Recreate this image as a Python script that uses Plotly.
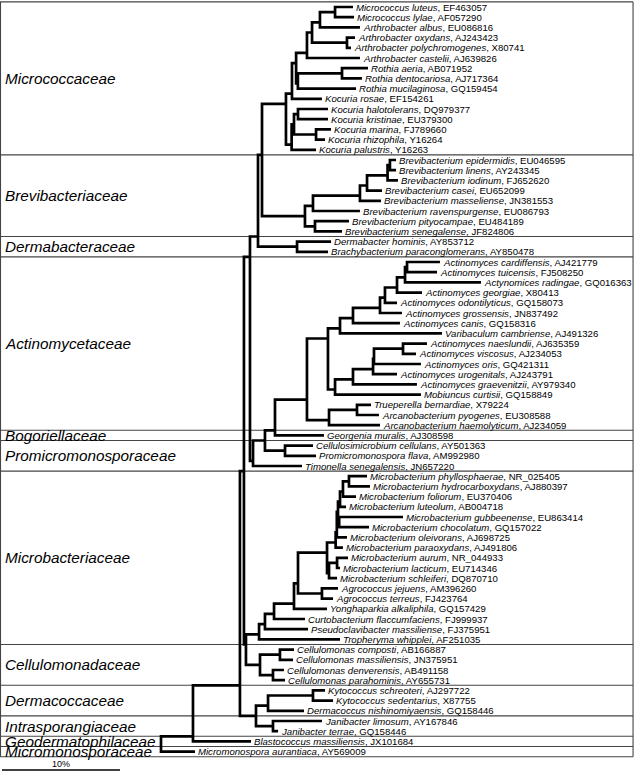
import plotly.graph_objects as go

# ---------------- data ----------------
species = [
    "Micrococcus luteus", "Micrococcus lylae", "Arthrobacter albus", "Arthrobacter oxydans",
    "Arthrobacter polychromogenes", "Arthrobacter castelii", "Rothia aeria", "Rothia dentocariosa",
    "Rothia mucilaginosa", "Kocuria rosae", "Kocuria halotolerans", "Kocuria kristinae",
    "Kocuria marina", "Kocuria rhizophila", "Kocuria palustris",
    "Brevibacterium epidermidis", "Brevibacterium linens", "Brevibacterium iodinum",
    "Brevibacterium casei", "Brevibacterium masseliense", "Brevibacterium ravenspurgense",
    "Brevibacterium pityocampae", "Brevibacterium senegalense",
    "Dermabacter hominis", "Brachybacterium paraconglomerans",
    "Actinomyces cardiffensis", "Actinomyces tuicensis", "Actynomices radingae",
    "Actinomyces georgiae", "Actinomyces odontilyticus", "Actinomyces grossensis",
    "Actinomyces canis", "Varibaculum cambriense", "Actinomyces naeslundii",
    "Actinomyces viscosus", "Actinomyces oris", "Actinomyces urogenitals",
    "Actinomyces graevenitzii", "Mobiuncus curtisii", "Trueperella bernardiae",
    "Arcanobacterium pyogenes", "Arcanobacterium haemolyticum",
    "Georgenia muralis",
    "Cellulosimicrobium cellulans", "Promicromonospora flava", "Timonella senegalensis",
    "Microbacterium phyllosphaerae", "Microbacterium hydrocarboxydans",
    "Microbacterium foliorum", "Microbacterium luteolum", "Microbacterium gubbeenense",
    "Microbacterium chocolatum", "Microbacterium oleivorans", "Microbacterium paraoxydans",
    "Microbacterium aurum", "Microbacterium lacticum", "Microbacterium schleiferi",
    "Agrococcus jejuens", "Agrococcus terreus", "Yonghaparkia alkaliphila",
    "Curtobacterium flaccumfaciens", "Pseudoclavibacter massiliense", "Tropheryma whipplei",
    "Cellulomonas composti", "Cellulomonas massiliensis", "Cellulomonas denverensis",
    "Cellulomonas parahominis",
    "Kytococcus schreoteri", "Kytococcus sedentarius", "Dermacoccus nishinomiyaensis",
    "Janibacter limosum", "Janibacter terrae",
    "Blastococcus massiliensis", "Micromonospora aurantiaca",
]
accession = [
    "EF463057", "AF057290", "EU086816", "AJ243423", "X80741", "AJ639826", "AB071952",
    "AJ717364", "GQ159454", "EF154261", "DQ979377", "EU379300", "FJ789660", "Y16264", "Y16263",
    "EU046595", "AY243345", "FJ652620", "EU652099", "JN381553", "EU086793", "EU484189",
    "JF824806",
    "AY853712", "AY850478",
    "AJ421779", "FJ508250", "GQ016363", "X80413", "GQ158073", "JN837492", "GQ158316",
    "AJ491326", "AJ635359", "AJ234053", "GQ421311", "AJ243791", "AY979340", "GQ158849",
    "X79224", "EU308588", "AJ234059",
    "AJ308598",
    "AY501363", "AM992980", "JN657220",
    "NR_025405", "AJ880397", "EU370406", "AB004718", "EU863414", "GQ157022", "AJ698725",
    "AJ491806", "NR_044933", "EU714346", "DQ870710", "AM396260", "FJ423764", "GQ157429",
    "FJ999937", "FJ375951", "AF251035",
    "AB166887", "JN375951", "AB491158", "AY655731",
    "AJ297722", "X87755", "GQ158446", "AY167846", "GQ158446",
    "JX101684", "AY569009",
]
# distance of each tip from the root (% divergence)
tip_depth = [
    16.27, 16.36, 16.86, 16.44, 16.10, 16.86, 17.54, 17.03, 16.53, 13.64, 14.15, 14.15,
    14.41, 13.90, 13.14,
    19.92, 19.92, 20.08, 18.73, 18.64, 16.86, 15.93, 15.34,
    14.41, 14.15,
    23.64, 23.39, 27.12, 22.12, 20.00, 20.42, 20.25, 23.81, 22.54, 21.61, 22.03, 20.00,
    21.69, 22.03, 17.80, 18.47, 18.56,
    13.81,
    12.88, 13.14, 11.95,
    17.46, 17.71, 16.53, 15.68, 20.51, 17.63, 15.76, 15.42, 15.85, 15.17, 14.92, 15.00,
    14.58, 14.07, 12.20, 12.46, 15.17,
    11.27, 11.19, 10.42, 10.51,
    13.90, 14.58, 12.12, 13.64, 9.92,
    7.63, 2.88,
]
family_names = [
    "Micrococcaceae", "Brevibacteriaceae", "Dermabacteraceae", "Actinomycetaceae",
    "Bogoriellaceae", "Promicromonosporaceae", "Microbacteriaceae", "Cellulomonadaceae",
    "Dermacoccaceae", "Intrasporangiaceae", "Geodermatophilaceae", "Micromonosporaceae",
]
family_sizes = [15, 8, 2, 17, 1, 3, 17, 4, 3, 2, 1, 1]
scale_length = 10  # %
scale_label = "10%"


def N(depth, *children):
    """internal node: depth from root (%) and its children (nodes or tip indices)"""
    return (depth, children)


micrococcaceae = N(10.59,
    N(11.10,
      N(11.45,
        N(12.37,
          N(12.80, N(13.47, N(14.75, 0, 1), 2), N(15.76, 3, 4)),
          5),
        N(11.60, N(15.34, 6, 7), 8)),
      9),
    N(11.07, N(11.27, N(11.61, 10, 11), N(13.14, 12, 13)), 14))
brevibacteriaceae = N(12.20,
    N(12.88, N(16.86, N(17.46, N(19.20, N(19.40, 15, 16), 17), 18), 19), 20),
    N(13.05, 21, 22))
dermabacteraceae = N(11.53, 23, 24)
actinomycetaceae = N(12.37,
    N(14.15,
      N(15.17, N(16.27, N(18.56, N(18.98, N(20.00, N(20.68, N(20.85, 25, 26), 27), 28), 29), 30), 31), 32),
      N(14.75, N(16.27, N(17.97, N(18.05, N(20.51, 33, 34), 35), 36), 37), 38)),
    N(14.24, N(16.61, 39, 40), 41))
promicro_group = N(7.80, N(8.81, N(9.66, actinomycetaceae, 42), N(10.51, 43, 44)), 45)
microbacteriaceae = N(8.31,
    N(8.81,
      N(9.58,
        N(11.27,
          N(11.61,
            N(14.07,
              N(14.80, N(14.90, N(15.00, N(15.17, N(15.42, N(15.93, 46, 47), 48), 49), N(15.10, 50, 51)), 52), 53),
              N(14.24, N(14.92, 54, 55), 56)),
            N(13.64, 57, 58)),
          59),
        60),
      61),
    62)
cellulomonadaceae = N(8.39, N(10.08, 63, 64), N(9.49, 65, 66))
dermaco_intra = N(8.05, N(9.07, N(12.88, 67, 68), 69), N(9.49, 70, 71))

tree = N(0.0,
    N(2.71,
      N(6.69,
        N(7.03,
          N(7.54, N(8.22, N(8.56, micrococcaceae, brevibacteriaceae), dermabacteraceae), promicro_group),
          N(7.20, microbacteriaceae, cellulomonadaceae)),
        dermaco_intra),
      72),
    73)

# ---------------- layout of the tree ----------------
# A node is drawn at the split between its first child's last tip and its
# second child's first tip; its vertical bar spans its children's positions.
line_x, line_y = [], []


def place(node):
    if isinstance(node, int):
        return tip_depth[node], float(node), node, node
    d, kids = node
    pos = [place(k) for k in kids]
    first, last = pos[0], pos[-1]
    line_x.extend([first[0], d, d, last[0], None])
    line_y.extend([first[1], first[1], last[1], last[1], None])
    for kx, ky, _, _ in pos[1:-1]:
        line_x.extend([d, kx, None])
        line_y.extend([ky, ky, None])
    y = (pos[0][3] + pos[1][2]) / 2
    return d, y, first[2], last[3]


place(tree)

# pixel geometry of the figure
W, H = 634, 773
px_per_pct = 11.8
root_px = 161
tip0_px, tip_step_px = 7, 10.2
x_range = [(0 - root_px) / px_per_pct, (W - root_px) / px_per_pct]
y_range = [(H - tip0_px) / tip_step_px, (0 - tip0_px) / tip_step_px]

fig = go.Figure()

# family boxes
bounds = [-0.5]
for s in family_sizes:
    bounds.append(bounds[-1] + s)
shapes = []
for b in bounds:
    shapes.append(dict(type="line", xref="paper", yref="y", x0=0, x1=0.9985, y0=b, y1=b,
                       line=dict(color="#444444", width=1.1), layer="below"))
for xp in (0.0008, 0.9985):
    shapes.append(dict(type="line", xref="paper", yref="y", x0=xp, x1=xp, y0=bounds[0], y1=bounds[-1],
                       line=dict(color="#444444", width=1.1), layer="below"))

fig.add_trace(go.Scatter(x=line_x, y=line_y, mode="lines",
                         line=dict(color="black", width=2.7), hoverinfo="skip", showlegend=False))

FONT = "Liberation Sans, Arial, sans-serif"
ann = []
for i, (sp, acc) in enumerate(zip(species, accession)):
    ann.append(dict(x=tip_depth[i], y=i, text=f"<i>{sp}</i>, {acc}", showarrow=False,
                    xanchor="left", yanchor="middle", xshift=1,
                    font=dict(family=FONT, size=9.6, color="black")))
for name, lo, hi in zip(family_names, bounds[:-1], bounds[1:]):
    ann.append(dict(x=0.004, xref="paper", y=(lo + hi) / 2, text=f"<i>{name}</i>", showarrow=False,
                    xanchor="left", yanchor="middle",
                    font=dict(family=FONT, size=15.3, color="black")))

# scale bar
sb_x0 = x_range[0] + 2 / px_per_pct
sb_y = (770 - tip0_px) / tip_step_px
fig.add_trace(go.Scatter(x=[sb_x0, sb_x0 + scale_length], y=[sb_y, sb_y], mode="lines",
                         line=dict(color="black", width=1.6), hoverinfo="skip", showlegend=False))
ann.append(dict(x=sb_x0 + scale_length / 2, y=sb_y, text=scale_label, showarrow=False,
                xanchor="center", yanchor="bottom", yshift=-1,
                font=dict(family=FONT, size=9, color="black")))

fig.update_layout(
    width=W, height=H, margin=dict(l=0, r=0, t=0, b=0),
    paper_bgcolor="white", plot_bgcolor="white",
    xaxis=dict(range=x_range, visible=False, fixedrange=True),
    yaxis=dict(range=y_range, visible=False, fixedrange=True),
    shapes=shapes, annotations=ann, showlegend=False,
)
fig.write_html("out.html", config={"displayModeBar": False},
               post_script="document.body.style.margin='0';document.body.style.overflow='hidden';")
